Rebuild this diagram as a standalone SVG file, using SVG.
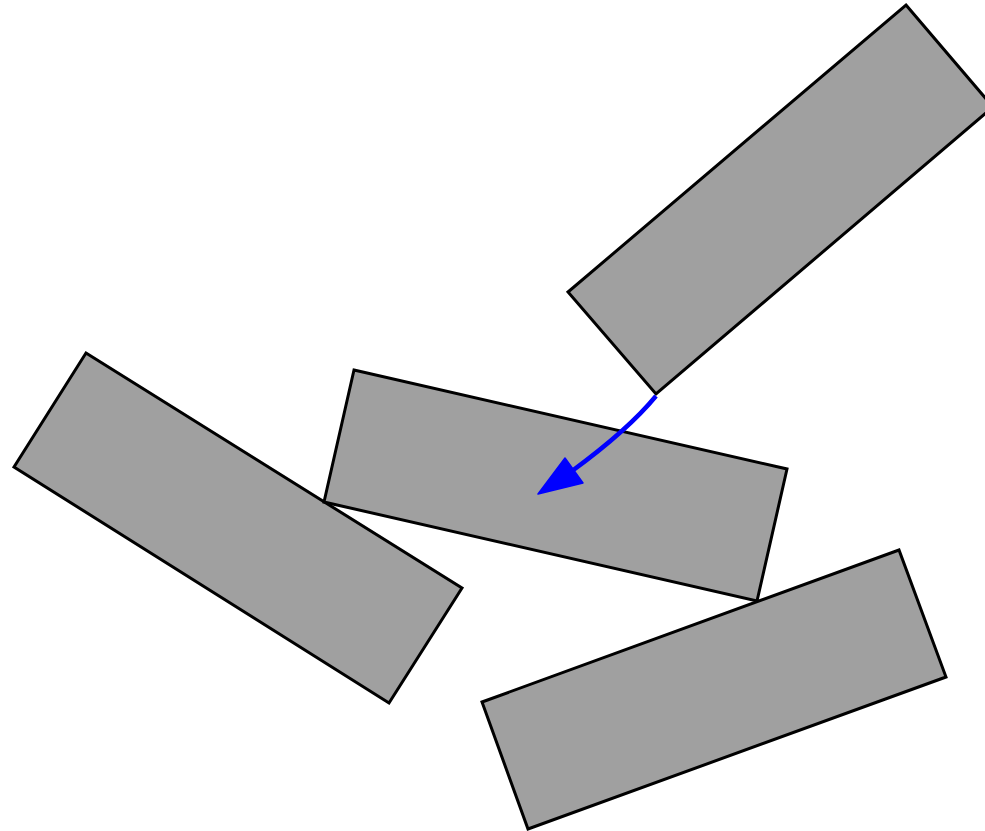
<svg xmlns="http://www.w3.org/2000/svg" width="985" height="831" viewBox="0 0 985 831">
<style>
.box{fill:#a0a0a0;stroke:#000;stroke-width:3;stroke-linejoin:miter}
.conn{fill:none;stroke:#0000ff;stroke-width:4.5}
.head{fill:#0000ff;stroke:#0000ff;stroke-width:1.5;stroke-linejoin:round}
</style>
<rect width="985" height="831" fill="#fff"/>
<g id="node-left"><polygon class="box" points="86,353 462,588 389,703 14,467"/></g>
<g id="node-middle"><polygon class="box" points="354,370 787,469 757,601 324,502"/></g>
<g id="node-bottom"><polygon class="box" points="482,702 899,550 946,677 528,829"/></g>
<g id="node-top"><polygon class="box" points="906,5 993,107 656,394 568,292"/></g>
<g id="connectors">
<path class="conn" d="M656,396 Q628,430 572,471"/>
<polygon class="head" points="538,494 565,458 583,483"/>
</g>
</svg>
